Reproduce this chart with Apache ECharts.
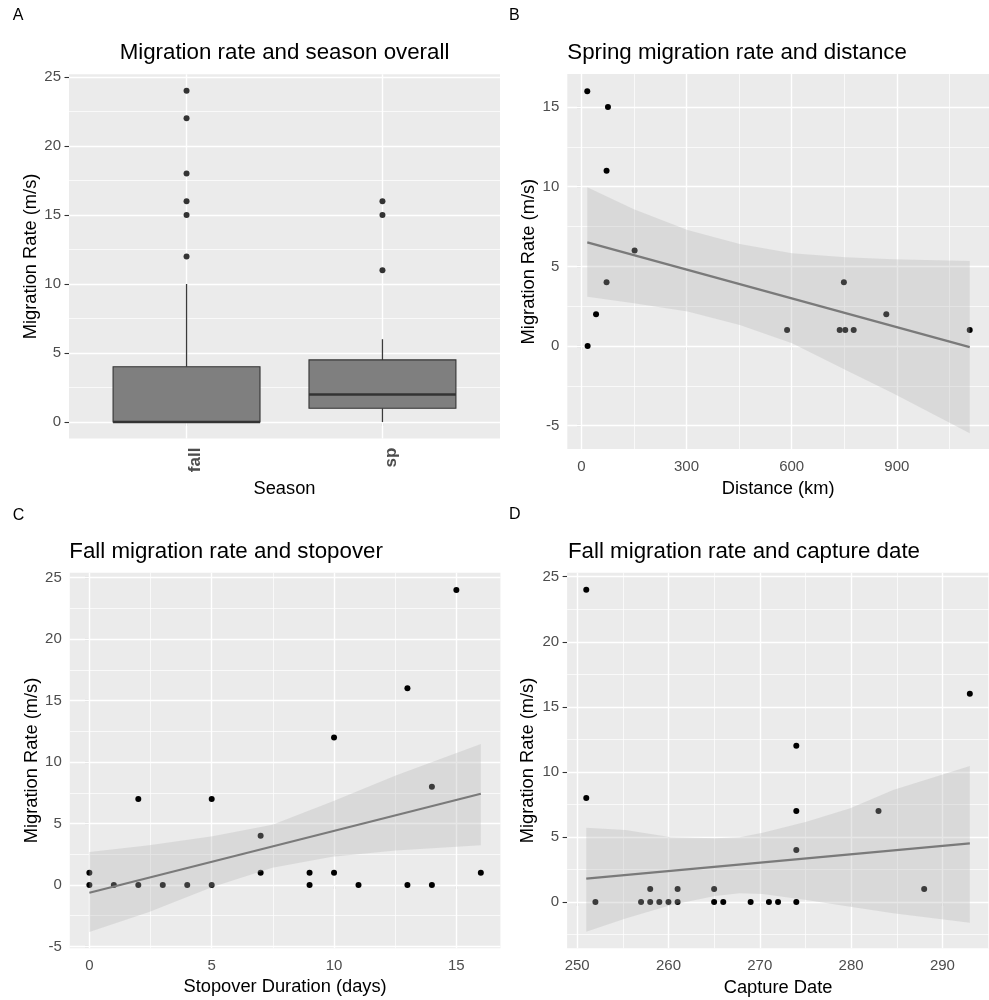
<!DOCTYPE html>
<html>
<head>
<meta charset="utf-8">
<title>Migration rate</title>
<script src="https://cdn.jsdelivr.net/npm/echarts@6.0.0/dist/echarts.min.js"></script>
<style>
  html, body { margin: 0; padding: 0; background: #fff; }
  #chart { width: 989px; height: 1000px; }
</style>
</head>
<body>
<div id="chart"></div>
<script>
// ---- A: migration rate by season (box stats)
const seasons = ['fall', 'sp'];
const boxLow = [0, 0];
const boxQ1 = [0, 1];
const boxMedian = [0, 2];
const boxQ3 = [4, 4.5];
const boxHigh = [10, 6];
const fallOutliers = [12, 15, 16, 18, 22, 24];
const springOutliers = [11, 15, 16];

// ---- B: spring rate vs distance
const springDistance = [17, 76, 72, 152, 72, 42, 18, 587, 749, 737, 753, 777, 870, 1108];
const springRate = [16, 15, 11, 6, 4, 2, 0, 1, 4, 1, 1, 1, 2, 1];
const springFitX = [17, 1108];
const springFitY = [6.51, -0.07];
const springBandX = [17, 150, 303, 452, 601, 754, 889, 1108];
const springBandHi = [9.96, 8.58, 7.28, 6.40, 5.82, 5.57, 5.44, 5.34];
const springBandLo = [3.10, 2.68, 2.16, 1.32, 0.17, -1.51, -2.97, -5.48];

// ---- C: fall rate vs stopover
const stopDays = [0, 0, 1, 2, 2, 3, 4, 5, 5, 7, 7, 9, 9, 10, 10, 11, 13, 13, 14, 14, 15, 16];
const stopRate = [1, 0, 0, 7, 0, 0, 0, 7, 0, 4, 1, 1, 0, 12, 1, 0, 16, 0, 8, 0, 24, 1];
const stopFitX = [0, 16];
const stopFitY = [-0.63, 7.42];
const stopBandX = [0, 2.44, 5.03, 7.48, 9.93, 12.52, 16];
const stopBandHi = [2.69, 3.24, 3.97, 4.9, 6.8, 8.9, 11.47];
const stopBandLo = [-3.83, -2.2, -0.16, 1.4, 2.3, 2.8, 3.23];

// ---- D: fall rate vs capture date
const captureDay = [251, 251, 252, 257, 258, 258, 259, 260, 261, 261, 265, 265, 266, 269, 271, 272, 274, 274, 274, 274, 283, 288, 293];
const captureRate = [24, 8, 0, 0, 1, 0, 0, 0, 1, 0, 1, 0, 0, 0, 0, 0, 12, 7, 4, 0, 7, 1, 16];
const captureFitX = [251, 293];
const captureFitY = [1.79, 4.51];
const captureBandX = [251, 255.3, 260.3, 265.1, 267.8, 270.3, 275.1, 279.9, 284.6, 293];
const captureBandHi = [5.71, 5.53, 4.97, 4.89, 4.97, 5.33, 6.17, 7.2, 8.6, 10.45];
const captureBandLo = [-2.28, -1.26, -0.23, 0.46, 0.67, 0.61, 0.15, -0.36, -0.87, -1.59];

// ---- tick labels / grid lines
const ticksA = { x: [1, 2], y: [0, 5, 10, 15, 20, 25], xMinor: [], yMinor: [2.5, 7.5, 12.5, 17.5, 22.5] };
const ticksB = { x: [0, 300, 600, 900], y: [-5, 0, 5, 10, 15], xMinor: [150, 450, 750, 1050], yMinor: [-2.5, 2.5, 7.5, 12.5] };
const ticksC = { x: [0, 5, 10, 15], y: [-5, 0, 5, 10, 15, 20, 25], xMinor: [2.5, 7.5, 12.5], yMinor: [-2.5, 2.5, 7.5, 12.5, 17.5, 22.5] };
const ticksD = { x: [250, 260, 270, 280, 290], y: [0, 5, 10, 15, 20, 25], xMinor: [255, 265, 275, 285, 295], yMinor: [-2.5, 2.5, 7.5, 12.5, 17.5, 22.5] };

const FONT = '"Liberation Sans", Arial, sans-serif';
const chart = echarts.init(document.getElementById('chart'));

function xAxisOf(idx, min, max, ticks, name, gap, label) {
  return {
    type: 'value', gridIndex: idx, min: min, max: max,
    axisLine: { show: false },
    axisTick: { show: true, customValues: ticks, length: 4.5, lineStyle: { color: '#333', width: 1.1 } },
    axisLabel: Object.assign({ customValues: ticks, color: '#4D4D4D', fontSize: 15, fontFamily: FONT, margin: 10.5 }, label || {}),
    splitLine: { show: false },
    name: name, nameLocation: 'middle', nameGap: gap,
    nameTextStyle: { color: '#000', fontSize: 18.3, fontFamily: FONT }
  };
}

function yAxisOf(idx, min, max, ticks, gap) {
  return {
    type: 'value', gridIndex: idx, min: min, max: max,
    axisLine: { show: false },
    axisTick: { show: true, customValues: ticks, length: 4.5, lineStyle: { color: '#333', width: 1.1 } },
    axisLabel: { customValues: ticks, color: '#4D4D4D', fontSize: 15, fontFamily: FONT, margin: 8 },
    splitLine: { show: false },
    name: 'Migration Rate (m/s)', nameLocation: 'middle', nameGap: gap,
    nameTextStyle: { color: '#000', fontSize: 18.3, fontFamily: FONT }
  };
}

// white panel grid lines, drawn through the axes with markLine
function gridLines(idx, t) {
  const major = { color: '#fff', width: 1.4, type: 'solid' };
  const minor = { color: '#fff', width: 0.7, type: 'solid' };
  const data = []
    .concat(t.xMinor.map(v => ({ xAxis: v, lineStyle: minor })))
    .concat(t.yMinor.map(v => ({ yAxis: v, lineStyle: minor })))
    .concat(t.x.map(v => ({ xAxis: v, lineStyle: major })))
    .concat(t.y.map(v => ({ yAxis: v, lineStyle: major })));
  return {
    type: 'line', xAxisIndex: idx, yAxisIndex: idx, data: [], z: 1, silent: true,
    markLine: {
      z: 1, silent: true, symbol: ['none', 'none'], label: { show: false },
      emphasis: { disabled: true }, animation: false, data: data
    }
  };
}

function points(idx, xs, ys, color) {
  return {
    type: 'scatter', xAxisIndex: idx, yAxisIndex: idx, z: 2, silent: true,
    symbolSize: 6, itemStyle: { color: color, opacity: 1 },
    data: xs.map((x, i) => [x, ys[i]])
  };
}

// confidence ribbon, laid over the points like geom_smooth does
function band(idx, xs, lo, hi) {
  return {
    type: 'custom', xAxisIndex: idx, yAxisIndex: idx, z: 3, silent: true, clip: true,
    data: xs.map((x, i) => [x, lo[i], hi[i]]),
    encode: { x: 0, y: [1, 2] },
    renderItem: function (params, api) {
      if (params.dataIndex !== 0) return null;
      const pts = [];
      for (let i = 0; i < xs.length; i++) pts.push(api.coord([xs[i], hi[i]]));
      for (let i = xs.length - 1; i >= 0; i--) pts.push(api.coord([xs[i], lo[i]]));
      return { type: 'polygon', shape: { points: pts }, style: { fill: 'rgba(182,182,182,0.33)' } };
    }
  };
}

function fitLine(idx, xs, ys) {
  return {
    type: 'line', xAxisIndex: idx, yAxisIndex: idx, z: 4, silent: true,
    symbol: 'none', lineStyle: { color: '#7A7A7A', width: 2.2 },
    data: xs.map((x, i) => [x, ys[i]])
  };
}

const boxSeries = {
  type: 'custom', xAxisIndex: 0, yAxisIndex: 0, z: 2, silent: true,
  data: seasons.map((s, i) => [i + 1, boxLow[i], boxQ1[i], boxMedian[i], boxQ3[i], boxHigh[i]]),
  encode: { x: 0, y: [1, 2, 3, 4, 5] },
  renderItem: function (params, api) {
    const x = api.value(0);
    const w = api.size([0.75, 0])[0];
    const low = api.coord([x, api.value(1)]);
    const q1 = api.coord([x, api.value(2)]);
    const med = api.coord([x, api.value(3)]);
    const q3 = api.coord([x, api.value(4)]);
    const high = api.coord([x, api.value(5)]);
    const stroke = { stroke: '#3a3a3a', lineWidth: 1.3 };
    return {
      type: 'group',
      children: [
        { type: 'line', shape: { x1: high[0], y1: high[1], x2: q3[0], y2: q3[1] }, style: stroke },
        { type: 'line', shape: { x1: low[0], y1: low[1], x2: q1[0], y2: q1[1] }, style: stroke },
        { type: 'rect', shape: { x: q3[0] - w / 2, y: q3[1], width: w, height: q1[1] - q3[1] },
          style: { fill: '#7F7F7F', stroke: '#333', lineWidth: 1.1 } },
        { type: 'line', shape: { x1: med[0] - w / 2, y1: med[1], x2: med[0] + w / 2, y2: med[1] },
          style: { stroke: '#333', lineWidth: 2.4 } }
      ]
    };
  }
};

const outlierX = fallOutliers.map(() => 1).concat(springOutliers.map(() => 2));
const outlierY = fallOutliers.concat(springOutliers);

function txt(x, y, text, size, align) {
  return {
    type: 'text', x: x, y: y, silent: true,
    style: { text: text, fontSize: size, fontFamily: FONT, fill: '#000', align: align, verticalAlign: 'middle' }
  };
}

const option = {
  animation: false,
  backgroundColor: '#fff',
  grid: [
    { left: 69, top: 74.2, width: 431, height: 364.4 },
    { left: 567.3, top: 74.1, width: 431.3, height: 375 },
    { left: 69.8, top: 572.7, width: 430.6, height: 375.6 },
    { left: 567.1, top: 572.7, width: 431.6, height: 375.6 }
  ].map(g => Object.assign({ show: true, backgroundColor: '#EBEBEB', borderWidth: 0, containLabel: false }, g)),
  xAxis: [
    xAxisOf(0, 0.4, 2.6, ticksA.x, 'Season', 41, {
      rotate: 90, fontWeight: 'bold', fontSize: 17, margin: 9, verticalAlign: 'top',
      formatter: v => seasons[Math.round(v) - 1]
    }),
    xAxisOf(1, -40, 1163, ticksB.x, 'Distance (km)', 31),
    xAxisOf(2, -0.8, 16.8, ticksC.x, 'Stopover Duration (days)', 30),
    xAxisOf(3, 248.9, 295.1, ticksD.x, 'Capture Date', 30.5)
  ],
  yAxis: [
    yAxisOf(0, -1.2, 25.2, ticksA.y, 29),
    yAxisOf(1, -6.47, 17.07, ticksB.y, 29),
    yAxisOf(2, -5.15, 25.4, ticksC.y, 29),
    yAxisOf(3, -3.56, 25.31, ticksD.y, 30)
  ],
  series: [
    gridLines(0, ticksA), gridLines(1, ticksB), gridLines(2, ticksC), gridLines(3, ticksD),
    boxSeries,
    points(0, outlierX, outlierY, '#333'),
    points(1, springDistance, springRate, '#000'),
    band(1, springBandX, springBandLo, springBandHi),
    fitLine(1, springFitX, springFitY),
    points(2, stopDays, stopRate, '#000'),
    band(2, stopBandX, stopBandLo, stopBandHi),
    fitLine(2, stopFitX, stopFitY),
    points(3, captureDay, captureRate, '#000'),
    band(3, captureBandX, captureBandLo, captureBandHi),
    fitLine(3, captureFitX, captureFitY)
  ],
  graphic: [
    txt(12.7, 16, 'A', 16, 'left'),
    txt(509, 16, 'B', 16, 'left'),
    txt(12.7, 515.3, 'C', 16, 'left'),
    txt(509, 515, 'D', 16, 'left'),
    txt(284.5, 52.5, 'Migration rate and season overall', 22.3, 'center'),
    txt(567.3, 52.5, 'Spring migration rate and distance', 22.3, 'left'),
    txt(69.3, 551.5, 'Fall migration rate and stopover', 22.3, 'left'),
    txt(568, 551.5, 'Fall migration rate and capture date', 22.3, 'left')
  ]
};

chart.setOption(option);
</script>
</body>
</html>
